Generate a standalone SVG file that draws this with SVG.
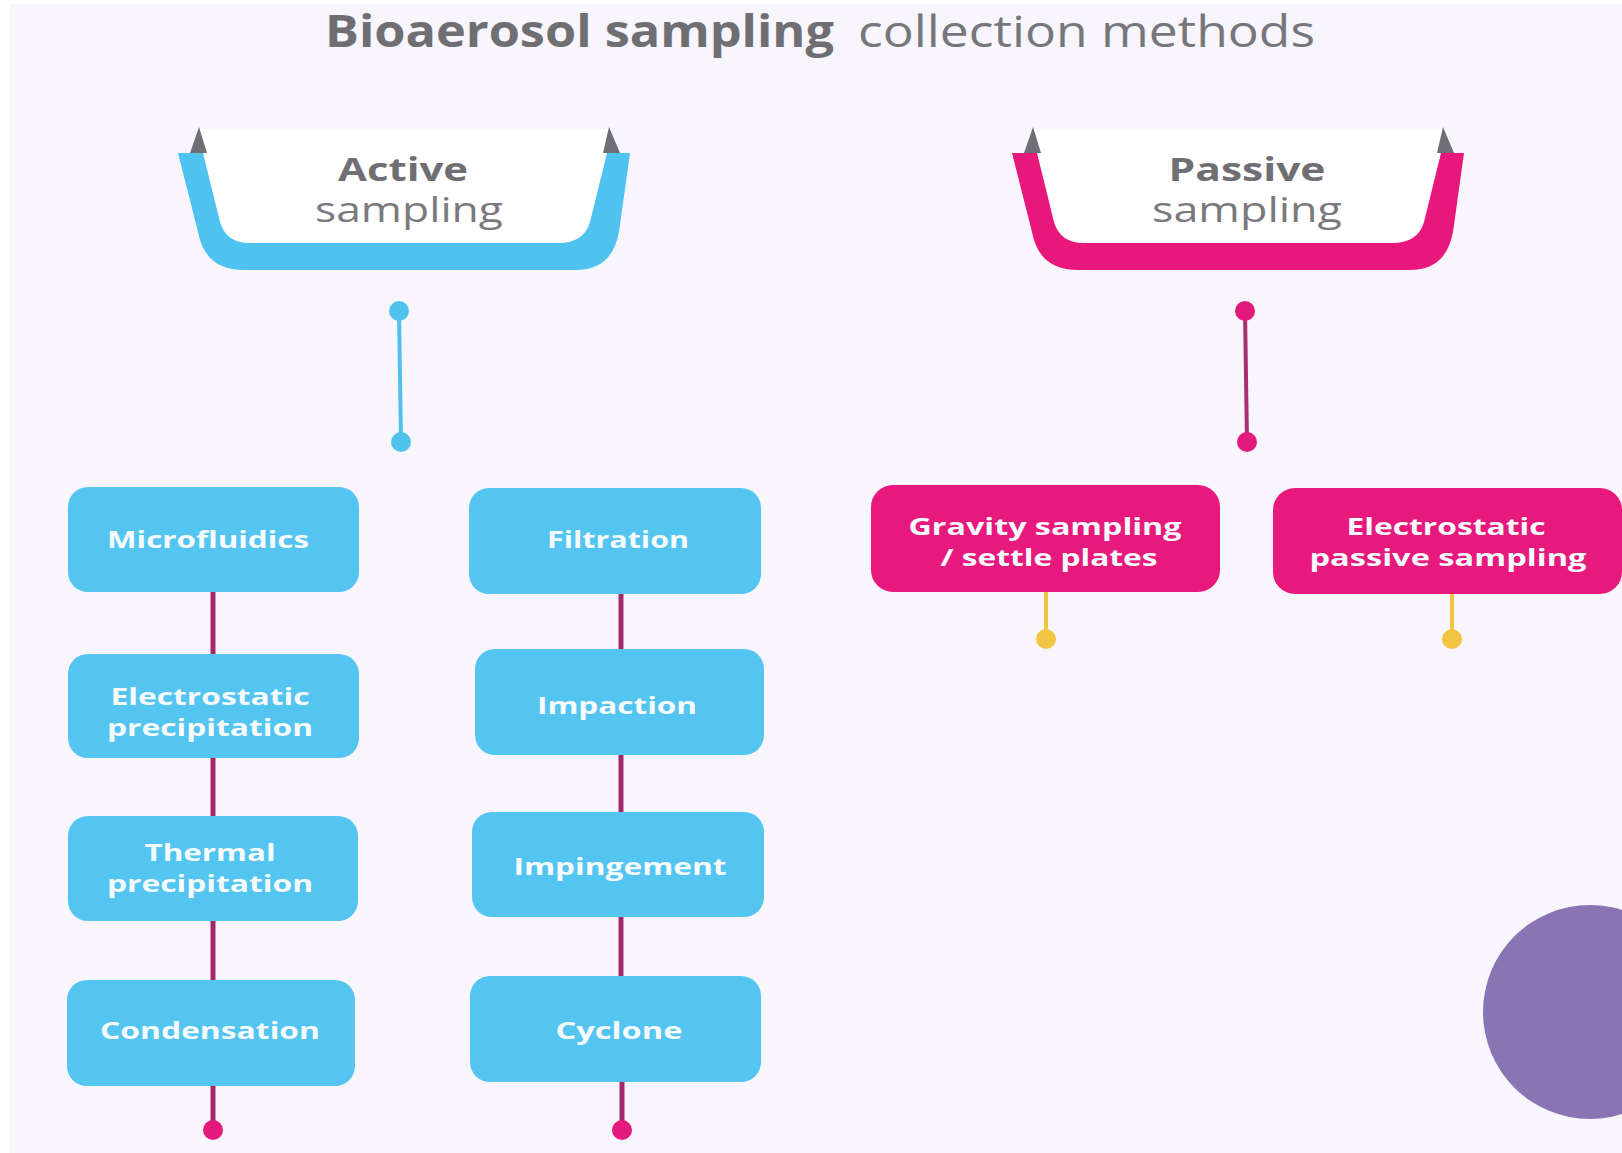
<svg xmlns="http://www.w3.org/2000/svg" width="1622" height="1153" viewBox="0 0 1622 1153">
  <style>
    .title-b { font-family: "Open Sans", "Liberation Sans", sans-serif; font-weight: 700; font-size: 44px; fill: #6f6f73; }
    .title-r { font-family: "Open Sans", "Liberation Sans", sans-serif; font-weight: 400; font-size: 44px; fill: #77777b; }
    .head-b { font-family: "Open Sans", "Liberation Sans", sans-serif; font-weight: 700; font-size: 32px; fill: #6f6f73; text-anchor: middle; }
    .head-r { font-family: "Open Sans", "Liberation Sans", sans-serif; font-weight: 400; font-size: 34px; fill: #7a7a7e; text-anchor: middle; }
    .lbl { font-family: "Open Sans", "Liberation Sans", sans-serif; font-weight: 700; font-size: 24px; fill: #f7fbfd; text-anchor: middle; }
    .lbl-s { font-size: 23px; }
    .box-a { fill: #54c5f1; }
    .box-p { fill: #e8197c; }
    .link { stroke: #a3286b; stroke-width: 5; fill: none; }
    .link-a { stroke: #4fc1ea; stroke-width: 4; fill: none; }
    .link-p { stroke: #a8306f; stroke-width: 4; fill: none; }
    .link-y { stroke: #f2c443; stroke-width: 4; fill: none; }
    .dot-a { fill: #4fc3ee; }
    .dot-p { fill: #e3197c; }
    .dot-y { fill: #f3c545; }
    .fold { fill: #6e6e74; }
    .card { fill: #ffffff; }
  </style>
  <defs>
    <!-- U-shaped ribbon framing a category heading -->
    <path id="ribbon" d="M178,153 L203,153 L220,222 Q226,243 250,243 L558,243 Q584,243 590,222 L607,153 L630,153 L619,232 Q612,270 576,270 L244,270 Q205,270 198,232 Z"/>
    <path id="folds" d="M190,153 L199,127 L207,153 Z M603,153 L609,127 L620,153 Z"/>
  </defs>

  <!-- page -->
  <rect x="0" y="0" width="1622" height="1153" fill="#ffffff"/>
  <rect x="10" y="4" width="1612" height="1149" fill="#f8f5fc"/>

  <!-- title -->
  <g id="title">
    <text class="title-b" x="325" y="47" textLength="509" lengthAdjust="spacingAndGlyphs">Bioaerosol sampling</text>
    <text class="title-r" x="858" y="47" textLength="457" lengthAdjust="spacingAndGlyphs">collection methods</text>
  </g>

  <!-- connectors -->
  <g id="connectors">
    <line class="link-a" x1="399" y1="311" x2="401" y2="442"/>
    <circle class="dot-a" cx="399" cy="311" r="10"/>
    <circle class="dot-a" cx="401" cy="442" r="10"/>

    <line class="link-p" x1="1245" y1="311" x2="1247" y2="442"/>
    <circle class="dot-p" cx="1245" cy="311" r="10"/>
    <circle class="dot-p" cx="1247" cy="442" r="10"/>

    <line class="link" x1="213" y1="590" x2="213" y2="656"/>
    <line class="link" x1="213" y1="756" x2="213" y2="818"/>
    <line class="link" x1="213" y1="919" x2="213" y2="982"/>
    <line class="link" x1="213" y1="1084" x2="213" y2="1128"/>
    <circle class="dot-p" cx="213" cy="1130" r="10"/>

    <line class="link" x1="621" y1="592" x2="621" y2="651"/>
    <line class="link" x1="621" y1="753" x2="621" y2="814"/>
    <line class="link" x1="621" y1="915" x2="621" y2="978"/>
    <line class="link" x1="622" y1="1080" x2="622" y2="1128"/>
    <circle class="dot-p" cx="622" cy="1130" r="10"/>

    <line class="link-y" x1="1046" y1="590" x2="1046" y2="636"/>
    <circle class="dot-y" cx="1046" cy="639" r="10"/>
    <line class="link-y" x1="1452" y1="592" x2="1452" y2="636"/>
    <circle class="dot-y" cx="1452" cy="639" r="10"/>
  </g>

  <!-- heading: active -->
  <g id="active-sampling">
    <rect class="card" x="200" y="129" width="410" height="118"/>
    <use href="#ribbon" fill="#4fc3ef"/>
    <use href="#folds" class="fold"/>
    <text class="head-b" x="403" y="181" textLength="130" lengthAdjust="spacingAndGlyphs">Active</text>
    <text class="head-r" x="409" y="222" textLength="188" lengthAdjust="spacingAndGlyphs">sampling</text>
  </g>

  <!-- heading: passive -->
  <g id="passive-sampling">
    <g transform="translate(834,0)">
      <rect class="card" x="200" y="129" width="410" height="118"/>
      <use href="#ribbon" fill="#e8177b"/>
      <use href="#folds" class="fold"/>
    </g>
    <text class="head-b" x="1247" y="181" textLength="157" lengthAdjust="spacingAndGlyphs">Passive</text>
    <text class="head-r" x="1247" y="222" textLength="190" lengthAdjust="spacingAndGlyphs">sampling</text>
  </g>

  <!-- active methods, left column -->
  <g id="microfluidics">
    <rect class="box-a" x="68" y="487" width="291" height="105" rx="20"/>
    <text class="lbl" x="208" y="548" textLength="202" lengthAdjust="spacingAndGlyphs">Microfluidics</text>
  </g>
  <g id="electrostatic-precipitation">
    <rect class="box-a" x="68" y="654" width="291" height="104" rx="20"/>
    <text class="lbl" x="210" y="705" textLength="199" lengthAdjust="spacingAndGlyphs">Electrostatic</text>
    <text class="lbl" x="210" y="736" textLength="206" lengthAdjust="spacingAndGlyphs">precipitation</text>
  </g>
  <g id="thermal-precipitation">
    <rect class="box-a" x="68" y="816" width="290" height="105" rx="20"/>
    <text class="lbl" x="210" y="861" textLength="131" lengthAdjust="spacingAndGlyphs">Thermal</text>
    <text class="lbl" x="210" y="892" textLength="206" lengthAdjust="spacingAndGlyphs">precipitation</text>
  </g>
  <g id="condensation">
    <rect class="box-a" x="67" y="980" width="288" height="106" rx="20"/>
    <text class="lbl" x="210" y="1039" textLength="220" lengthAdjust="spacingAndGlyphs">Condensation</text>
  </g>

  <!-- active methods, right column -->
  <g id="filtration">
    <rect class="box-a" x="469" y="488" width="292" height="106" rx="20"/>
    <text class="lbl" x="618" y="548" textLength="142" lengthAdjust="spacingAndGlyphs">Filtration</text>
  </g>
  <g id="impaction">
    <rect class="box-a" x="475" y="649" width="289" height="106" rx="20"/>
    <text class="lbl" x="617" y="714" textLength="160" lengthAdjust="spacingAndGlyphs">Impaction</text>
  </g>
  <g id="impingement">
    <rect class="box-a" x="472" y="812" width="292" height="105" rx="20"/>
    <text class="lbl" x="620" y="875" textLength="213" lengthAdjust="spacingAndGlyphs">Impingement</text>
  </g>
  <g id="cyclone">
    <rect class="box-a" x="470" y="976" width="291" height="106" rx="20"/>
    <text class="lbl" x="619" y="1039" textLength="127" lengthAdjust="spacingAndGlyphs">Cyclone</text>
  </g>

  <!-- passive methods -->
  <g id="gravity-sampling">
    <rect class="box-p" x="871" y="485" width="349" height="107" rx="22"/>
    <text class="lbl lbl-s" x="1045" y="535" textLength="273" lengthAdjust="spacingAndGlyphs">Gravity sampling</text>
    <text class="lbl lbl-s" x="1049" y="566" textLength="217" lengthAdjust="spacingAndGlyphs">/ settle plates</text>
  </g>
  <g id="electrostatic-passive">
    <rect class="box-p" x="1273" y="488" width="349" height="106" rx="22"/>
    <text class="lbl lbl-s" x="1446" y="535" textLength="199" lengthAdjust="spacingAndGlyphs">Electrostatic</text>
    <text class="lbl lbl-s" x="1448" y="566" textLength="277" lengthAdjust="spacingAndGlyphs">passive sampling</text>
  </g>

  <!-- decorative disc -->
  <circle cx="1590" cy="1012" r="107" fill="#8b74b4"/>
</svg>
